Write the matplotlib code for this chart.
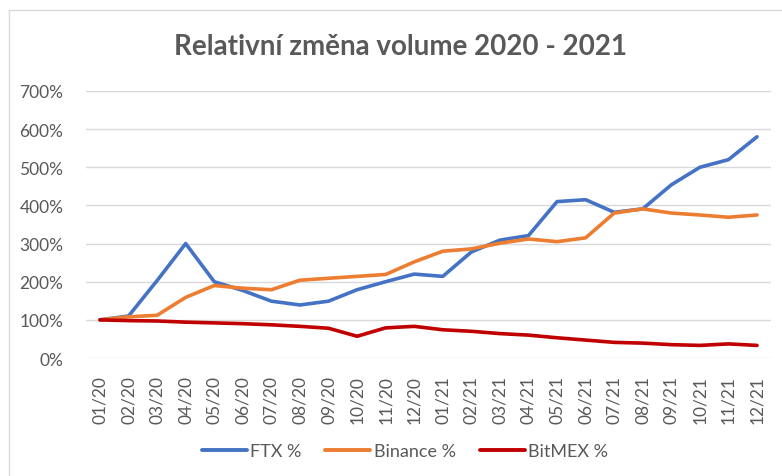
import numpy as np
import matplotlib
matplotlib.use('Agg')
import matplotlib.pyplot as plt
from matplotlib.lines import Line2D
from matplotlib.ticker import FuncFormatter

months = ['01/20', '02/20', '03/20', '04/20', '05/20', '06/20', '07/20', '08/20',
          '09/20', '10/20', '11/20', '12/20', '01/21', '02/21', '03/21', '04/21',
          '05/21', '06/21', '07/21', '08/21', '09/21', '10/21', '11/21', '12/21']

ftx = [1.00, 1.10, 2.03, 3.00, 2.00, 1.77, 1.49, 1.39, 1.49, 1.79, 2.00, 2.20,
       2.14, 2.78, 3.09, 3.21, 4.10, 4.15, 3.82, 3.91, 4.54, 5.00, 5.20, 5.80]
binance = [1.00, 1.08, 1.12, 1.59, 1.90, 1.83, 1.79, 2.04, 2.09, 2.14, 2.19, 2.52,
           2.80, 2.86, 3.01, 3.12, 3.05, 3.15, 3.80, 3.91, 3.80, 3.75, 3.69, 3.75]
bitmex = [1.00, 0.98, 0.97, 0.94, 0.92, 0.90, 0.87, 0.83, 0.78, 0.57, 0.79, 0.83,
          0.74, 0.70, 0.64, 0.60, 0.53, 0.47, 0.41, 0.39, 0.35, 0.33, 0.37, 0.33]

series = [('FTX %', ftx, '#4472C4'),
          ('Binance %', binance, '#ED7D31'),
          ('BitMEX %', bitmex, '#C00000')]

grey = '#595959'
plt.rcParams['font.family'] = ['Lato', 'DejaVu Sans']

W, H = 782, 477
fig = plt.figure(figsize=(W / 100, H / 100), dpi=100)
ax = fig.add_axes([85.7 / W, 1 - 359 / H, (771.3 - 85.7) / W, (359 - 92) / H])

x = np.arange(len(months))
for name, vals, col in series:
    ax.plot(x, vals, color=col, lw=2.6, label=name, solid_capstyle='round',
            solid_joinstyle='round')

ax.set_xlim(-0.5, len(months) - 0.5)
ax.set_ylim(0, 7)
ax.set_yticks(np.arange(0, 8))
ax.yaxis.set_major_formatter(FuncFormatter(lambda v, p: f'{int(round(v * 100))}%'))
ax.set_xticks(x)
ax.set_xticklabels(months, rotation=90)
ax.tick_params(axis='both', length=0, colors=grey)
ax.tick_params(axis='y', pad=16, labelsize=12.5)
ax.tick_params(axis='x', pad=12, labelsize=12.5)
ax.grid(axis='y', color='#d9d9d9', lw=1)
ax.set_axisbelow(True)
for s in ax.spines.values():
    s.set_visible(False)

fig.text(401 / W, 1 - 47 / H, 'Relativní změna volume 2020 - 2021',
         ha='center', va='center', fontsize=20, fontweight='bold', color=grey)

handles = [Line2D([0], [0], color=c, lw=2.8, solid_capstyle='round') for _, _, c in series]
fig.legend(handles, [n for n, _, _ in series], loc='center',
           bbox_to_anchor=(405 / W, 1 - 452 / H), ncol=3, frameon=False,
           fontsize=13, labelcolor=grey, handlelength=2.5, handletextpad=0.2,
           columnspacing=1.3)

# chart area border
fig.add_artist(Line2D([9 / W, 1], [1 - 11 / H, 1 - 11 / H], color='#d9d9d9', lw=1))
fig.add_artist(Line2D([9 / W, 9 / W], [0, 1 - 11 / H], color='#d9d9d9', lw=1))

fig.savefig('out.png', dpi=100)
